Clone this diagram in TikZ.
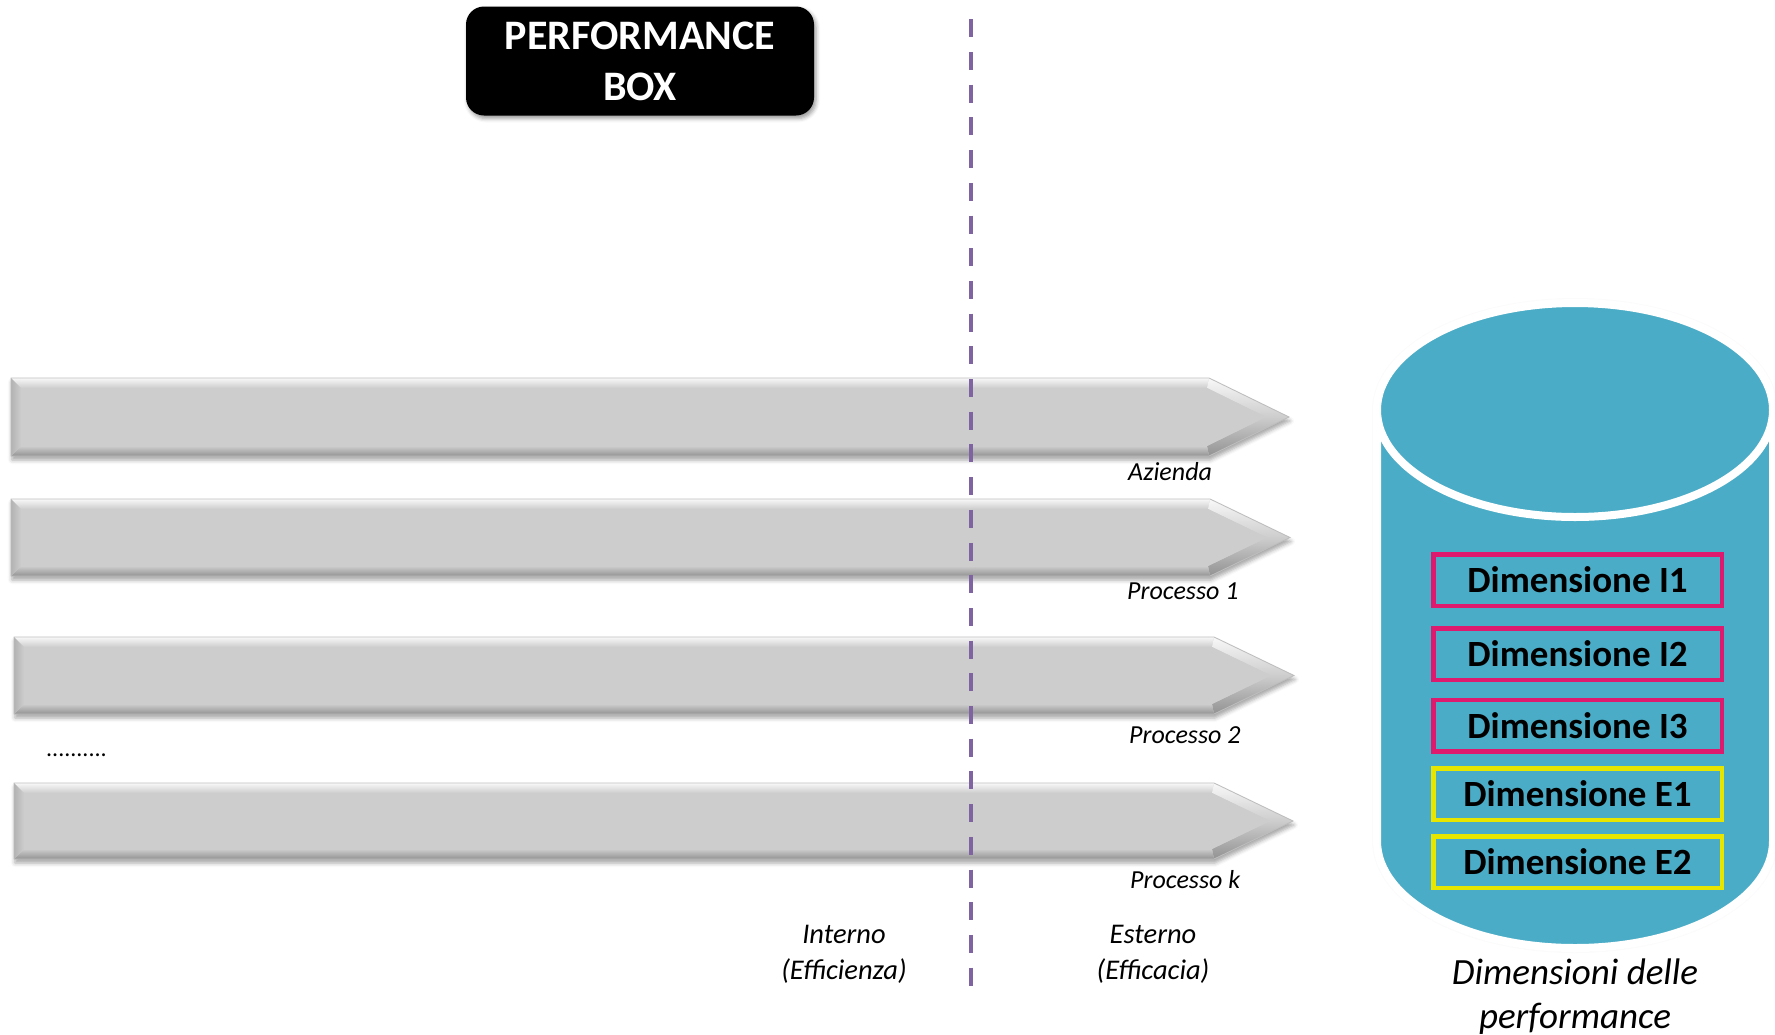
\documentclass[tikz,border=0pt]{standalone}
\usepackage{fontspec}
\setmainfont{Carlito}
\usetikzlibrary{shadows.blur}

\definecolor{barmid}{HTML}{CDCDCD}
\definecolor{barlight}{HTML}{F8F8F8}
\definecolor{bardark}{HTML}{929292}
\definecolor{baredge}{HTML}{BDBDBD}
\definecolor{divider}{HTML}{8064A2}
\definecolor{cyl}{HTML}{4AACC6}
\definecolor{dimpink}{HTML}{DE1A6E}
\definecolor{dimyellow}{HTML}{E6E600}

\tikzset{
  barshadow/.style={blur shadow={shadow xshift=1pt, shadow yshift=-4pt,
      shadow blur radius=4pt, shadow opacity=35}},
  baredgeline/.style={draw=baredge, line width=0.8pt, fill=none},
  proclabel/.style={anchor=base west, inner sep=0pt,
      font=\fontsize{26}{31}\selectfont\itshape},
  sidelabel/.style={align=center, inner sep=0pt,
      font=\fontsize{28.5}{36}\selectfont\itshape},
  titlebox/.style={fill=black, rounded corners=18pt, minimum width=348pt,
      minimum height=109pt, text=white, align=center, inner sep=0pt,
      font=\fontsize{42}{51}\selectfont\bfseries,
      blur shadow={shadow xshift=2pt, shadow yshift=-3pt,
      shadow blur radius=4pt, shadow opacity=40}},
  dimbox/.style={draw=#1, line width=4.5pt, minimum width=288.5pt,
      minimum height=51.5pt, inner sep=0pt,
      font=\fontsize{37}{40}\selectfont\bfseries},
  dividerline/.style={draw=divider, line width=4.6pt,
      dash pattern=on 18pt off 14.7pt},
  cylline/.style={draw=white, line width=8pt, fill=cyl},
}

% Bevelled grey arrow bar: name, left x, top y, shoulder x, tip x, bottom y
\newcommand{\procbar}[6]{%
  \pgfmathsetmacro{\barym}{(#3+#6)/2}
  \coordinate (#1-a) at (#2,#3);
  \coordinate (#1-b) at (#4,#3);
  \coordinate (#1-t) at (#5,\barym);
  \coordinate (#1-c) at (#4,#6);
  \coordinate (#1-d) at (#2,#6);
  \coordinate (#1-ai) at (#2+10,#3+10);
  \coordinate (#1-bi) at (#4-2,#3+10);
  \coordinate (#1-ti) at (#5-23,\barym);
  \coordinate (#1-ci) at (#4-2,#6-10);
  \coordinate (#1-di) at (#2+10,#6-10);
  \fill[barmid, barshadow] (#1-a) -- (#1-b) -- (#1-t) -- (#1-c) -- (#1-d) -- cycle;
  \shade[top color=barlight, bottom color=barmid]
    (#1-a) -- (#1-b) -- (#1-bi) -- (#1-ai) -- cycle;
  \shade[top color=barlight, bottom color=barmid]
    (#1-b) -- (#1-t) -- (#1-ti) -- (#1-bi) -- cycle;
  \shade[top color=barmid, bottom color=bardark]
    (#1-t) -- (#1-c) -- (#1-ci) -- (#1-ti) -- cycle;
  \shade[top color=barmid, bottom color=bardark]
    (#1-c) -- (#1-d) -- (#1-di) -- (#1-ci) -- cycle;
  \shade[left color=bardark!45!barmid, right color=barmid]
    (#1-d) -- (#1-a) -- (#1-ai) -- (#1-di) -- cycle;
  \fill[barmid] (#1-ai) -- (#1-bi) -- (#1-ti) -- (#1-ci) -- (#1-di) -- cycle;
  \draw[baredgeline] (#1-a) -- (#1-b) -- (#1-t) -- (#1-c) -- (#1-d) -- cycle;
}

\begin{document}
\begin{tikzpicture}[x=1pt, y=-1pt]
  \useasboundingbox (0,0) rectangle (1775,1034);

  % title
  \node[titlebox] (title) at (640,61) {PERFORMANCE\\BOX};

  % arrow bars
  \procbar{azienda}{11}{378}{1209}{1289}{456}
  \procbar{proc1}{11}{499}{1210}{1290}{576}
  \procbar{proc2}{14}{637}{1214}{1294}{714}
  \procbar{prock}{14}{783}{1214}{1293}{859}

  \node[proclabel] (lblaz) at (1128,480) {Azienda};
  \node[proclabel] (lblp1) at (1127,599) {Processo 1};
  \node[proclabel] (lblp2) at (1129,743) {Processo 2};
  \node[proclabel] (lblpk) at (1130,888) {Processo k};

  \node[anchor=base west, inner sep=0pt, font=\fontsize{24}{28}\selectfont]
    (dots) at (46,756) {..........};

  % internal / external divider
  \coordinate (divtop) at (971,19.3);
  \coordinate (divbot) at (971,986);
  \draw[dividerline] (divtop) -- (divbot);

  \node[sidelabel] (interno) at (844,954) {Interno\\(Efficienza)};
  \node[sidelabel] (esterno) at (1153,954) {Esterno\\(Efficacia)};

  % database cylinder
  \path[cylline, blur shadow={shadow xshift=0pt, shadow yshift=0pt,
      shadow blur radius=5pt, shadow opacity=25}]
    (1377,410) arc[start angle=180, end angle=360, x radius=198, y radius=107]
    -- (1773,841) arc[start angle=0, end angle=180, x radius=198, y radius=107]
    -- cycle;
  \path[cylline] (1575,410) ellipse[x radius=198, y radius=107];

  \node[dimbox=dimpink]   (dimI1) at (1577.5,580)   {Dimensione I1};
  \node[dimbox=dimpink]   (dimI2) at (1577.5,654)   {Dimensione I2};
  \node[dimbox=dimpink]   (dimI3) at (1577.5,725.5) {Dimensione I3};
  \node[dimbox=dimyellow] (dimE1) at (1577.5,794)   {Dimensione E1};
  \node[dimbox=dimyellow] (dimE2) at (1577.5,862)   {Dimensione E2};

  \node[align=center, inner sep=0pt, font=\fontsize{37}{44}\selectfont\itshape]
    (dimcaption) at (1575,997) {Dimensioni delle\\performance};
\end{tikzpicture}
\end{document}
